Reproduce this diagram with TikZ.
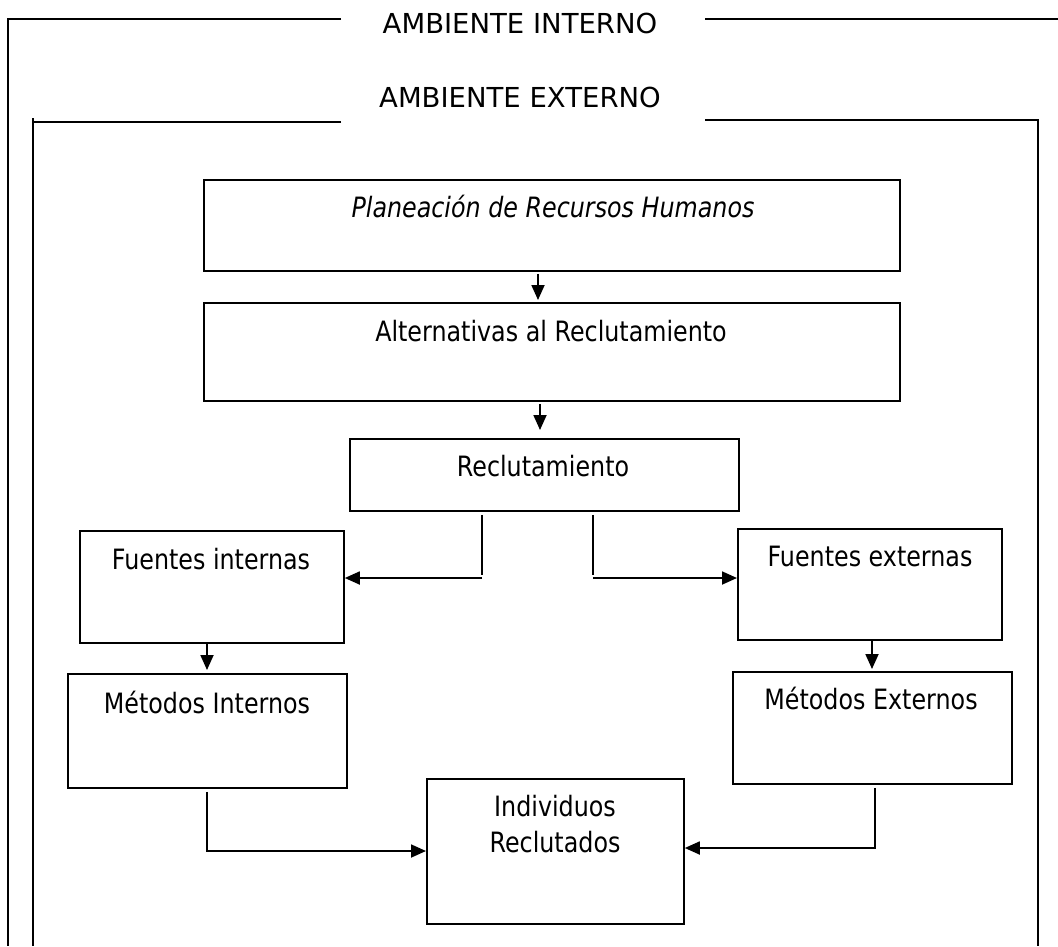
\documentclass[tikz,border=0pt]{standalone}
\usepackage{fontspec}
\setmainfont[FakeStretch=0.85]{DejaVu Sans}
\newfontfamily\titlefont{DejaVu Sans}
\usetikzlibrary{arrows.meta}
\begin{document}
\begin{tikzpicture}[x=1pt,y=-1pt,
  box/.style={draw, line width=1.8pt, inner sep=0pt, anchor=north west},
  txt/.style={inner sep=0pt, text height=20.4pt, text depth=0pt, font=\fontsize{28}{34}\selectfont},
  ttl/.style={inner sep=0pt, text height=20pt, text depth=0pt, font=\titlefont\fontsize{27.5}{33}\selectfont},
  conn/.style={line width=1.8pt},
  arr/.style={line width=1.8pt, -{Triangle[length=15pt,width=13pt]}},
  framel/.style={line width=1.8pt}]
\useasboundingbox (0,0) rectangle (1058,946);
% environment frames
\node[ttl] (aint) at (520,23) {AMBIENTE INTERNO};
\node[ttl] (aext) at (520,97) {AMBIENTE EXTERNO};
\draw[framel] (341,19) -- (8,19) -- (8,946);
\draw[framel] (705,19) -- (1058,19);
\draw[framel] (341,122) -- (33,122);
\draw[framel] (33,118) -- (33,946);
\draw[framel] (705,120) -- (1038,120) -- (1038,946);
% boxes
\node[box, minimum width=696pt, minimum height=91pt] (plan) at (203,179) {};
\node[box, minimum width=696pt, minimum height=98pt] (alt) at (203,302) {};
\node[box, minimum width=389pt, minimum height=72pt] (rec) at (349,438) {};
\node[box, minimum width=264pt, minimum height=112pt] (fi) at (79,530) {};
\node[box, minimum width=264pt, minimum height=111pt] (fe) at (737,528) {};
\node[box, minimum width=279pt, minimum height=114pt] (mi) at (67,673) {};
\node[box, minimum width=279pt, minimum height=112pt] (me) at (732,671) {};
\node[box, minimum width=257pt, minimum height=145pt] (ir) at (426,778) {};
% texts
\node[txt] (plant) at (553,207) {\itshape Planeación de Recursos Humanos};
\node[txt] (altt) at (551,331) {Alternativas al Reclutamiento};
\node[txt] (rect) at (543,466) {Reclutamiento};
\node[txt] (fit) at (211,559) {Fuentes internas};
\node[txt] (fet) at (870,556) {Fuentes externas};
\node[txt] (mit) at (207,703) {Métodos Internos};
\node[txt] (met) at (871,699) {Métodos Externos};
\node[txt] (irt1) at (555,806) {Individuos};
\node[txt] (irt2) at (555,842) {Reclutados};
% connector columns / rows
\coordinate (c1) at (538,0);
\coordinate (c1b) at (540,0);
\coordinate (cl) at (482,0);
\coordinate (cr) at (593,0);
\coordinate (c2) at (207,0);
\coordinate (c3) at (872,0);
\coordinate (c4) at (875,0);
\coordinate (rowA) at (0,578);
\coordinate (rowB) at (0,851);
\coordinate (rowC) at (0,848);
% connectors
\draw[arr] ([yshift=-2pt]plan.south -| c1) -- ([yshift=2pt]alt.north -| c1);
\draw[arr] ([yshift=-2pt]alt.south -| c1b) -- ([yshift=8pt]rec.north -| c1b);
\draw[conn] ([yshift=-3pt]rec.south -| cl) -- ([yshift=3pt]rowA -| cl);
\draw[arr] (rowA -| cl) -- (rowA -| fi.east);
\draw[conn] ([yshift=-3pt]rec.south -| cr) -- ([yshift=3pt]rowA -| cr);
\draw[arr] (rowA -| cr) -- (rowA -| fe.west);
\draw[arr] (fi.south -| c2) -- ([yshift=3pt]mi.north -| c2);
\draw[arr] (fe.south -| c3) -- ([yshift=2pt]me.north -| c3);
\draw[arr] ([yshift=-3pt]mi.south -| c2) |- (rowB -| ir.west);
\draw[arr] ([yshift=-3pt]me.south -| c4) |- (rowC -| ir.east);
\end{tikzpicture}
\end{document}
